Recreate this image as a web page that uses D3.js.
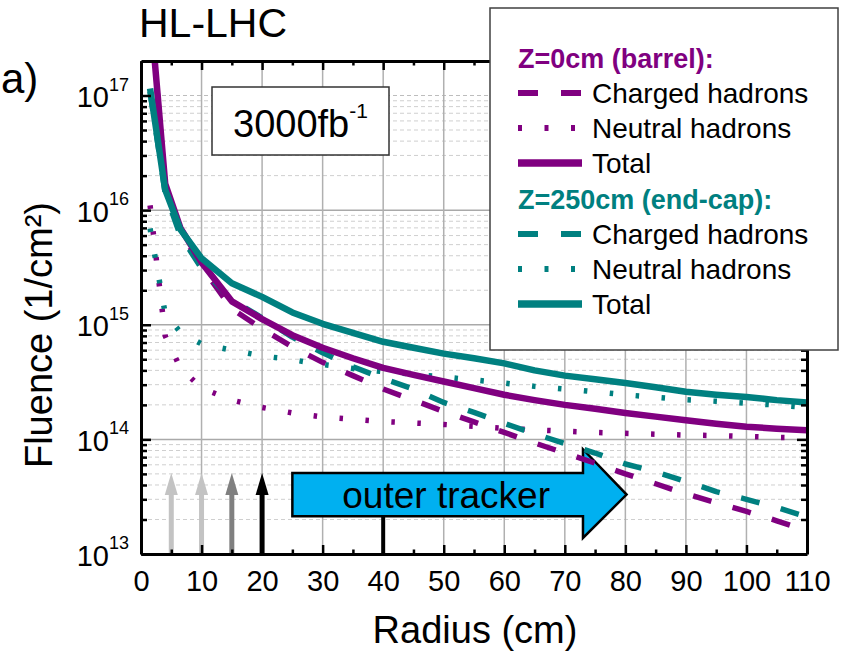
<!DOCTYPE html>
<html><head><meta charset="utf-8">
<script src="https://cdn.jsdelivr.net/npm/d3@7"></script>
<style>
html,body{margin:0;padding:0;background:#fff;}
svg{display:block;font-family:Arial,"Liberation Sans",sans-serif;}
</style></head><body>
<svg id="chart" width="846" height="656"></svg>
<script>
// ---------------- data ----------------
const radius = [1.5,4,6.5,10,15,20,25,30,35,40,45,50,55,60,65,70,75,80,85,90,95,100,105,110];
const barrelCharged = [5.9e17,1.6e16,6.6e15,3.2e15,1.38e15,9.2e14,6.4e14,4.7e14,3.6e14,2.75e14,2.2e14,1.75e14,1.42e14,1.15e14,9.3e13,7.6e13,6.2e13,5.0e13,4.1e13,3.35e13,2.8e13,2.35e13,1.95e13,1.6e13];
const barrelNeutral = [1.1e16,8.0e14,4.2e14,2.8e14,2.2e14,1.9e14,1.7e14,1.57e14,1.5e14,1.43e14,1.39e14,1.35e14,1.3e14,1.25e14,1.21e14,1.18e14,1.15e14,1.13e14,1.11e14,1.09e14,1.08e14,1.06e14,1.04e14,1.03e14];
const barrelTotal = [6e17,1.7e16,7.0e15,3.5e15,1.6e15,1.12e15,8.1e14,6.3e14,5.1e14,4.2e14,3.65e14,3.2e14,2.8e14,2.45e14,2.2e14,2.0e14,1.85e14,1.7e14,1.58e14,1.47e14,1.37e14,1.29e14,1.24e14,1.2e14];
const endcapCharged = [1.08e17,1.4e16,6.0e15,3.1e15,1.65e15,1.15e15,7.8e14,5.7e14,4.3e14,3.4e14,2.75e14,2.1e14,1.72e14,1.38e14,1.12e14,9.2e13,7.6e13,6.1e13,5.2e13,4.3e13,3.5e13,3.0e13,2.55e13,2.1e13];
const endcapNeutral = [6.9e15,1.25e15,8.6e14,6.8e14,6.0e14,5.35e14,4.95e14,4.5e14,4.15e14,3.9e14,3.7e14,3.5e14,3.3e14,3.1e14,2.9e14,2.75e14,2.6e14,2.45e14,2.33e14,2.22e14,2.15e14,2.07e14,1.99e14,1.9e14];
const endcapTotal = [1.15e17,1.5e16,6.8e15,3.8e15,2.3e15,1.75e15,1.28e15,1.02e15,8.5e14,7.1e14,6.3e14,5.6e14,5.1e14,4.6e14,4.0e14,3.6e14,3.35e14,3.1e14,2.85e14,2.6e14,2.45e14,2.34e14,2.2e14,2.1e14];
const xTicks = [0,10,20,30,40,50,60,70,80,90,100,110];
const yTickExponents = [13,14,15,16,17];
const layerRadii = [5,10,15,20];
const legendGroups = ["Z=0cm (barrel):","Z=250cm (end-cap):"];
const legendItems = ["Charged hadrons","Neutral hadrons","Total"];

// ---------------- setup ----------------
const PURPLE = "#800080", TEAL = "#008080";
const m = {left:141, right:807, top:61, bottom:554};
const x = d3.scaleLinear().domain([0,110]).range([m.left, m.right]);
const y = d3.scaleLog().domain([1e13, 2e17]).range([m.bottom, m.top]);
const svg = d3.select("#chart");

svg.append("defs").append("clipPath").attr("id","plotclip")
  .append("rect").attr("x",m.left).attr("y",m.top)
  .attr("width",m.right-m.left).attr("height",m.bottom-m.top);

// ---------------- grid ----------------
const grid = svg.append("g");
const minorVals = [];
for (let e = 13; e <= 16; e++) for (let k = 2; k <= 9; k++) minorVals.push(+(k + "e" + e));
grid.selectAll("line.minor").data(minorVals).join("line")
  .attr("x1",m.left).attr("x2",m.right)
  .attr("y1",d=>y(d)).attr("y2",d=>y(d))
  .attr("stroke","#cfcfcf").attr("stroke-width",1).attr("stroke-dasharray","4,3");
grid.append("line").attr("x1",m.left).attr("x2",m.right)
  .attr("y1",y(1e17)).attr("y2",y(1e17))
  .attr("stroke","#bdbdbd").attr("stroke-width",1.2).attr("stroke-dasharray","4,3");
grid.selectAll("line.major").data([1e14,1e15,1e16]).join("line")
  .attr("x1",m.left).attr("x2",m.right)
  .attr("y1",d=>y(d)).attr("y2",d=>y(d))
  .attr("stroke","#a9a9a9").attr("stroke-width",1.5);
grid.selectAll("line.v").data(xTicks.slice(1,-1)).join("line")
  .attr("x1",d=>x(d)).attr("x2",d=>x(d))
  .attr("y1",m.top).attr("y2",m.bottom)
  .attr("stroke","#b0b0b0").attr("stroke-width",1.5);

// ---------------- 3000fb box ----------------
svg.append("rect").attr("x",212).attr("y",87).attr("width",177).attr("height",68)
  .attr("fill","#fff").attr("stroke","#333").attr("stroke-width",1.5);
const lum = svg.append("text").attr("x",300.5).attr("y",137).attr("text-anchor","middle")
  .attr("font-size",38).attr("fill","#000");
lum.append("tspan").text("3000fb");
lum.append("tspan").attr("font-size",21).attr("dy",-19).text("-1");

// ---------------- layer arrows ----------------
const arrowColors = ["#c3c3c3","#c3c3c3","#808080","#000000"];
const tipVal = 5.1e13;
layerRadii.forEach((r,i)=>{
  const cx = x(r), tipY = y(tipVal), baseY = tipY + 22;
  svg.append("line").attr("x1",cx).attr("x2",cx).attr("y1",y(1e13)).attr("y2",baseY-1)
    .attr("stroke",arrowColors[i]).attr("stroke-width",5);
  svg.append("path").attr("d",`M${cx-6.5},${baseY}L${cx},${tipY}L${cx+6.5},${baseY}Z`)
    .attr("fill",arrowColors[i]);
});

// ---------------- outer tracker arrow ----------------
svg.append("line").attr("x1",x(40)).attr("x2",x(40)).attr("y1",y(2.14e13)).attr("y2",y(1e13))
  .attr("stroke","#000").attr("stroke-width",4);
const bx0 = x(25), bx1 = x(73), btip = x(80.2);
const by0 = y(5.1e13), by1 = y(2.14e13), hy0 = y(8.2e13), hy1 = y(1.38e13), hmid = y(3.3e13);
svg.append("path")
  .attr("d",`M${bx0},${by0}L${bx1},${by0}L${bx1},${hy0}L${btip},${hmid}L${bx1},${hy1}L${bx1},${by1}L${bx0},${by1}Z`)
  .attr("fill","#00b0f0").attr("stroke","#000").attr("stroke-width",2.5).attr("stroke-linejoin","miter");
svg.append("text").attr("x",x(50.4)).attr("y",508).attr("text-anchor","middle")
  .attr("font-size",37).attr("fill","#000").text("outer tracker");

// ---------------- curves ----------------
const styles = {
  charged:{w:5.5, dash:"19,22"},
  neutral:{w:5.5, dash:"3.5,22.5"},
  total:{w:6.5, dash:null}
};
const series = [
  {vals:barrelNeutral, color:PURPLE, st:"neutral"},
  {vals:endcapNeutral, color:TEAL, st:"neutral"},
  {vals:barrelCharged, color:PURPLE, st:"charged"},
  {vals:endcapCharged, color:TEAL, st:"charged"},
  {vals:barrelTotal, color:PURPLE, st:"total"},
  {vals:endcapTotal, color:TEAL, st:"total"}
];
const line = d3.line().x(d=>x(d[0])).y(d=>y(d[1]));
const curves = svg.append("g").attr("clip-path","url(#plotclip)");
series.forEach(s=>{
  curves.append("path").datum(radius.map((r,i)=>[r,s.vals[i]]))
    .attr("d",line).attr("fill","none").attr("stroke",s.color)
    .attr("stroke-width",styles[s.st].w)
    .attr("stroke-dasharray",styles[s.st].dash)
    .attr("stroke-linejoin","round");
});

// ---------------- axes ----------------
const minor5 = d3.range(5,110,10);
function styleAxis(g){
  g.select(".domain").attr("stroke","#000").attr("stroke-width",3);
  g.selectAll(".tick line").attr("stroke","#000").attr("stroke-width",2.5);
  g.selectAll("text").attr("font-size",29).attr("font-family","Arial, 'Liberation Sans', sans-serif").attr("fill","#000");
}
// bottom
const gB = svg.append("g").attr("transform",`translate(0,${m.bottom})`)
  .call(d3.axisBottom(x).tickValues(xTicks).tickSizeInner(-9).tickSizeOuter(0).tickPadding(16).tickFormat(d3.format("d")));
styleAxis(gB);
const gBm = svg.append("g").attr("transform",`translate(0,${m.bottom})`)
  .call(d3.axisBottom(x).tickValues(minor5).tickSize(-4.5).tickFormat(""));
gBm.select(".domain").remove(); gBm.selectAll(".tick line").attr("stroke","#000").attr("stroke-width",2.5);
// top
const gT = svg.append("g").attr("transform",`translate(0,${m.top})`)
  .call(d3.axisTop(x).tickValues(xTicks).tickSizeInner(-9).tickSizeOuter(0).tickFormat(""));
styleAxis(gT);
const gTm = svg.append("g").attr("transform",`translate(0,${m.top})`)
  .call(d3.axisTop(x).tickValues(minor5).tickSize(-4.5).tickFormat(""));
gTm.select(".domain").remove(); gTm.selectAll(".tick line").attr("stroke","#000").attr("stroke-width",2.5);
// left / right
const decades = yTickExponents.map(e=>+("1e"+e));
[[m.left,d3.axisLeft],[m.right,d3.axisRight]].forEach(([px,ax])=>{
  const g = svg.append("g").attr("transform",`translate(${px},0)`)
    .call(ax(y).tickValues(decades).tickSizeInner(-10).tickSizeOuter(0).tickFormat(""));
  styleAxis(g);
  const gm = svg.append("g").attr("transform",`translate(${px},0)`)
    .call(ax(y).tickValues(minorVals).tickSize(-6).tickFormat(""));
  gm.select(".domain").remove(); gm.selectAll(".tick line").attr("stroke","#000").attr("stroke-width",2.5);
});
// y tick labels with superscripts
yTickExponents.forEach(e=>{
  const t = svg.append("text").attr("x",129).attr("y",y(+("1e"+e))+11.5)
    .attr("text-anchor","end").attr("font-size",29).attr("fill","#000");
  t.append("tspan").text("10");
  t.append("tspan").attr("font-size",18).attr("dy",-16.5).text(String(e));
});

// ---------------- labels ----------------
svg.append("text").attr("x",475).attr("y",643).attr("text-anchor","middle")
  .attr("font-size",38).attr("fill","#000").text("Radius (cm)");
svg.append("text").attr("transform","translate(52,335) rotate(-90)").attr("text-anchor","middle")
  .attr("font-size",38).attr("fill","#000").text("Fluence (1/cm²)");
svg.append("text").attr("x",139).attr("y",37).attr("font-size",41).attr("fill","#000").text("HL-LHC");
svg.append("text").attr("x",1).attr("y",93).attr("font-size",42).attr("fill","#000").text("a)");

// ---------------- legend ----------------
const lg = svg.append("g");
lg.append("rect").attr("x",490).attr("y",8).attr("width",348).attr("height",342)
  .attr("fill","#fff").attr("stroke","#404040").attr("stroke-width",1.5);
const groupColors = [PURPLE, TEAL];
const groupBase = [68, 209];
const itemStyles = ["charged","neutral","total"];
legendGroups.forEach((gname,gi)=>{
  const b = groupBase[gi];
  lg.append("text").attr("x",518).attr("y",b).attr("font-size",27).attr("font-weight","bold")
    .attr("fill",groupColors[gi]).text(gname);
  legendItems.forEach((it,ii)=>{
    const ty = b + 35*(ii+1);
    lg.append("line").attr("x1",518).attr("x2",582).attr("y1",ty-10).attr("y2",ty-10)
      .attr("stroke",groupColors[gi]).attr("stroke-width",itemStyles[ii]==="total"?7.5:6)
      .attr("stroke-dasharray",itemStyles[ii]==="charged"?"20,23":(itemStyles[ii]==="neutral"?"4,22.5":null));
    lg.append("text").attr("x",592).attr("y",ty).attr("font-size",28).attr("fill","#000").text(it);
  });
});
</script>
</body></html>
